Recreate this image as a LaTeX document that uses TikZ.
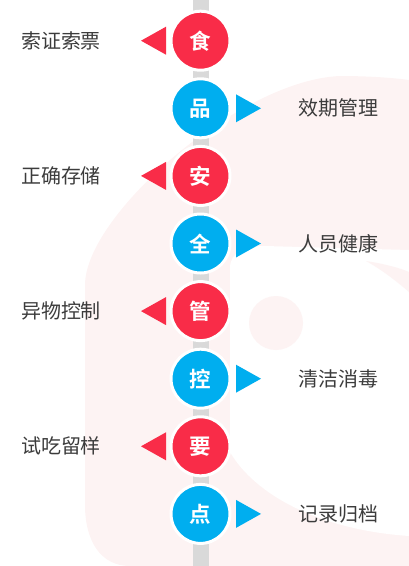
\documentclass[tikz,border=0pt]{standalone}
\usepackage{fontspec}
\usetikzlibrary{calc}
\newfontfamily\cjk{Noto Sans CJK SC}[BoldFont={Noto Sans CJK SC Bold}]

\definecolor{hotred}{RGB}{249,44,72}
\definecolor{skyblue}{RGB}{0,174,239}
\definecolor{railgray}{RGB}{217,217,217}
\definecolor{labelgray}{RGB}{60,60,60}
\definecolor{faintpink}{RGB}{253,243,243}

% small pointers beside the round badges
\newcommand{\redtip}[1]{\fill[hotred] ($(#1)+(-34.5,-14)$) -- ($(#1)+(-59.5,0)$) -- ($(#1)+(-34.5,14)$) -- cycle;}
\newcommand{\bluetip}[1]{\fill[skyblue] ($(#1)+(35.5,-14)$) -- ($(#1)+(60.5,0)$) -- ($(#1)+(35.5,14)$) -- cycle;}

\begin{document}
\begin{tikzpicture}[x=1pt,y=-1pt]
      \tikzstyle{badge}=[circle,minimum size=59pt,inner sep=0pt,draw=white,line width=3pt,text=white,font=\cjk\bfseries\fontsize{21.5}{22}\selectfont]
      \tikzstyle{caption}=[text=labelgray,font=\cjk\fontsize{20}{20}\selectfont]

      \useasboundingbox (0,0) rectangle (409,566);

      % faint watermark behind
      \fill[faintpink] (130,566) .. controls (100,566) and (85,540) .. (85,505) -- (85,285)
            .. controls (85,215) and (240,80) .. (340,76) .. controls (370,76) and (395,78) .. (409,80) -- (409,566) -- cycle;
      \fill[white] (230,268) .. controls (230,252) and (245,246) .. (265,246) -- (409,250) -- (409,536)
            .. controls (320,530) and (255,495) .. (230,452) -- cycle;
      \fill[faintpink] (366,261) .. controls (385,264) and (400,268) .. (409,272) -- (409,292) .. controls (395,280) and (382,270) .. (366,261) -- cycle;
      \fill[faintpink] (276,323) circle (27);

      \coordinate (railtop) at (200.5,0);
      \coordinate (railbot) at (200.5,566);
      \draw[railgray,line width=16pt] (railtop) -- (railbot);

      \node[badge,fill=hotred] (shi) at (200.5,40.7) {食};
      \node[badge,fill=skyblue] (pin) at (200.5,108.3) {品};
      \node[badge,fill=hotred] (an) at (200.5,175.9) {安};
      \node[badge,fill=skyblue] (quan) at (200.5,243.5) {全};
      \node[badge,fill=hotred] (guan) at (200.5,311.1) {管};
      \node[badge,fill=skyblue] (kong) at (200.5,378.7) {控};
      \node[badge,fill=hotred] (yao) at (200.5,446.3) {要};
      \node[badge,fill=skyblue] (dian) at (200.5,513.9) {点};

      \redtip{shi} \bluetip{pin} \redtip{an} \bluetip{quan}
      \redtip{guan} \bluetip{kong} \redtip{yao} \bluetip{dian}

      \node[caption] (suozheng) at (61,40.7) {索证索票};
      \node[caption] (xiaoqi) at (338.5,108.3) {效期管理};
      \node[caption] (cuncu) at (61,175.9) {正确存储};
      \node[caption] (renyuan) at (338.5,243.5) {人员健康};
      \node[caption] (yiwu) at (61,311.1) {异物控制};
      \node[caption] (qingjie) at (338.5,378.7) {清洁消毒};
      \node[caption] (shichi) at (61,446.3) {试吃留样};
      \node[caption] (jilu) at (338.5,513.9) {记录归档};
    \end{tikzpicture}
\end{document}
